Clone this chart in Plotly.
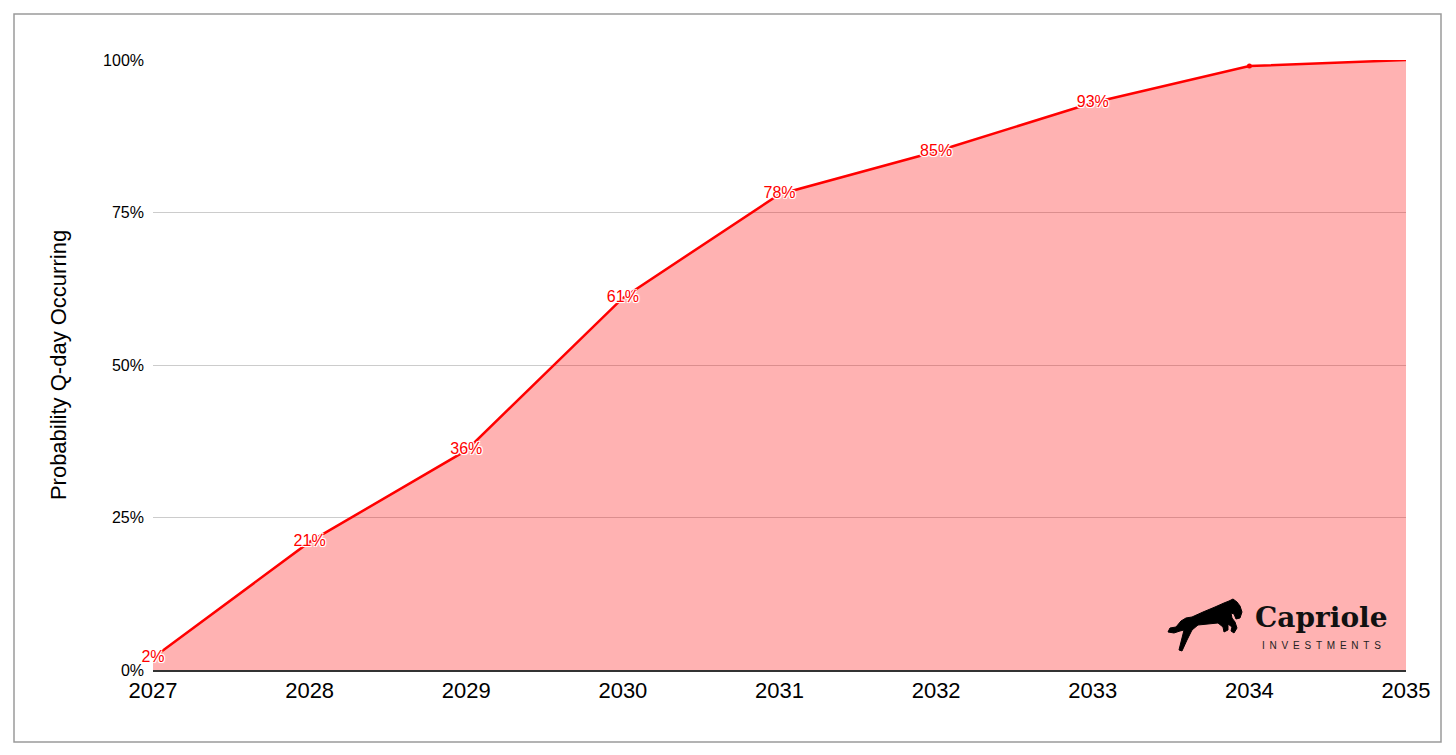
import plotly.graph_objects as go

years = [2027, 2028, 2029, 2030, 2031, 2032, 2033, 2034, 2035]
prob = [2, 21, 36, 61, 78, 85, 93, 99, 100]
labels = ["2%", "21%", "36%", "61%", "78%", "85%", "93%", "", ""]
y_ticks = [0, 25, 50, 75, 100]
y_tick_text = ["0%", "25%", "50%", "75%", "100%"]

# page body has an 8px margin; work in screen pixels and convert
OFF = 8
W, H = 1440, 739
L, R, T, B = 153 - OFF, 42, 60 - OFF, 77
pw, ph = W - L - R, H - T - B


def px(x):
    return (x - OFF - L) / pw


def py(y):
    return (H - B - (y - OFF)) / ph


fig = go.Figure()
fig.add_trace(go.Scatter(
    x=years, y=prob, mode="lines+text",
    fill="tozeroy", fillcolor="rgba(255,0,0,0.30)",
    line=dict(color="#ff0000", width=2.5),
    text=labels, textposition="middle center", cliponaxis=False,
    textfont=dict(family="Liberation Sans, Arial, sans-serif", size=16, color="#ff0000",
                  shadow="-1px -1px 0 #fff, 1px -1px 0 #fff, -1px 1px 0 #fff, 1px 1px 0 #fff, 0 0 3px #fff"),
    hoverinfo="x+y", showlegend=False,
))
fig.add_trace(go.Scatter(
    x=[years[7]], y=[prob[7]], mode="markers",
    marker=dict(color="#ff0000", size=5), showlegend=False, hoverinfo="skip",
))

shapes = [dict(type="rect", xref="paper", yref="paper",
               x0=px(14), x1=px(1441), y0=py(742), y1=py(14),
               line=dict(color="#9a9a9a", width=1.5), fillcolor="rgba(0,0,0,0)", layer="below")]

horse = [(1168, 632), (1170, 628), (1176, 627), (1181, 621), (1186, 618), (1192, 617), (1203, 612),
         (1215, 607), (1224, 603), (1229, 601), (1233, 599), (1237, 602), (1240, 606), (1242, 612),
         (1240, 618), (1236, 619), (1234, 614), (1231, 613), (1232, 618), (1235, 622), (1237, 628),
         (1234, 633), (1231, 631), (1232, 627), (1228, 624), (1228, 630), (1224, 632), (1223, 627),
         (1218, 623), (1208, 624), (1198, 625), (1192, 630), (1187, 640), (1182, 651), (1179, 650),
         (1182, 638), (1184, 630), (1180, 631), (1174, 633)]
path = "M " + " L ".join(f"{px(x):.5f},{py(y):.5f}" for x, y in horse) + " Z"
shapes.append(dict(type="path", xref="paper", yref="paper", path=path,
                   fillcolor="#000000", line=dict(color="#000000", width=1)))

sp = "\u00a0\u2009"
fig.update_layout(
    width=W, height=H,
    margin=dict(l=L, r=R, t=T, b=B),
    paper_bgcolor="white", plot_bgcolor="white",
    font=dict(family="Liberation Sans, Arial, sans-serif", color="#000"),
    xaxis=dict(range=[2027, 2035], tickvals=years, ticktext=[str(y) for y in years],
               tickfont=dict(size=22), showgrid=False, zeroline=False,
               showline=True, linecolor="#333", linewidth=1.5, ticks="", ticklen=0,
               ticklabelstandoff=0),
    yaxis=dict(range=[0, 100], tickvals=y_ticks, ticktext=y_tick_text,
               tickfont=dict(size=16), showgrid=True, gridcolor="#cccccc", gridwidth=1,
               zeroline=False, showline=False, ticks="", ticklabelstandoff=8,
               title=dict(text="Probability Q-day Occurring", font=dict(size=22), standoff=30)),
    shapes=shapes,
    annotations=[
        dict(text="<b>Capriole</b>", xref="paper", yref="paper", x=px(1321), y=py(617),
             showarrow=False, xanchor="center", yanchor="middle",
             font=dict(family="DejaVu Serif, serif", size=28, color="#111")),
        dict(text=sp.join("INVESTMENTS"), xref="paper", yref="paper", x=px(1321), y=py(645),
             showarrow=False, xanchor="center", yanchor="middle",
             font=dict(family="Liberation Sans, Arial, sans-serif", size=10, color="#222")),
    ],
)

fig.write_html("out.html")
